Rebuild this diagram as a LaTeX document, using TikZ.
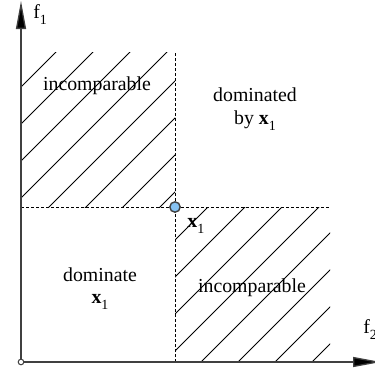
\documentclass[tikz,border=0pt]{standalone}
\usepackage{fontspec}
\setmainfont{Liberation Serif}
\usetikzlibrary{arrows.meta}
\definecolor{axisgray}{HTML}{404040}
\definecolor{pointblue}{HTML}{86C2F2}
\tikzset{
    pareto diagram/.style = {x=0.5pt, y=0.5pt,
                             font=\fontsize{9.9}{11.5}\selectfont},
    axis/.style        = {draw=axisgray, line width=0.65pt,
                          -{Triangle[length=14pt, width=5pt, fill=black]}},
    split/.style       = {draw, dash pattern=on 1.5pt off 1pt, line width=0.4pt},
    hatch/.style       = {draw, line width=0.4pt},
    region/.style      = {align=center, anchor=base},
    solution/.style    = {circle, draw=axisgray, fill=pointblue,
                          line width=0.7pt, inner sep=0pt, minimum size=5.2pt},
    origin/.style      = {circle, draw=axisgray, fill=white,
                          line width=0.5pt, inner sep=0pt, minimum size=2.8pt},
    lbl/.style         = {anchor=base west, inner sep=0pt}
}
\newcommand{\lowsub}[1]{\raisebox{-0.35em}{\scriptsize #1}}
\newcommand{\xone}{\textbf{x}\lowsub{1}}

\begin{document}
\begin{tikzpicture}[pareto diagram]
\useasboundingbox (-21,-9) rectangle (354,362);

% ================= Hatched regions =================
\begin{scope}
  \clip (0,155) rectangle (154,310);
  \foreach \c in {-275,-238,...,-16}
    \draw[hatch] (100+\c,100) -- (400+\c,400);
\end{scope}
\begin{scope}
  \clip (154,0) rectangle (309,155);
  \foreach \c in {32,69,...,291}
    \draw[hatch] (\c-100,-100) -- (\c+300,300);
\end{scope}

% ================= Dashed split lines =================
\coordinate (o) at (0,0);
\node[solution] (x1) at (154,155) {};
\draw[split] (154,0) -- (x1) -- (154,310);
\draw[split] (0,155) -- (x1) -- (309,155);

% ================= Axes =================
\draw[axis] (o) -- (0,361);
\draw[axis] (o) -- (360,0);
\node[origin] (orig) at (o) {};
\node[lbl] (f1) at (12,344) {f\lowsub{1}};
\node[lbl] (f2) at (342,29) {f\lowsub{2}};

% ================= Region labels =================
\node[region] (inc1) at (76,272) {incomparable};
\node[region] (dby) at (234,261) {dominated};
\node[region] (dbyx) at (234,238) {by \xone};
\node[region] (dom) at (79,81) {dominate};
\node[region] (domx) at (79,59) {\xone};
\node[region] (inc2) at (231,70) {incomparable};
\node[lbl] (x1lbl) at (166,135) {\xone};

\end{tikzpicture}
\end{document}
